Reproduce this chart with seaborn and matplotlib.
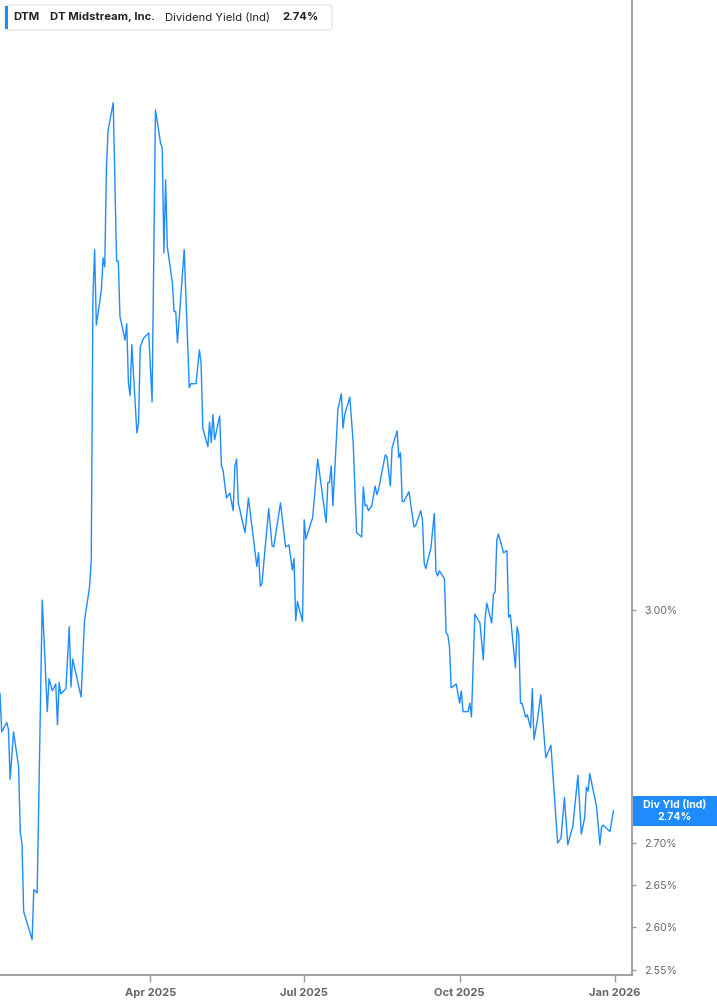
import numpy as np
import pandas as pd
import matplotlib
matplotlib.use("Agg")
import matplotlib.pyplot as plt
import matplotlib.dates as mdates
from matplotlib.patches import FancyBboxPatch, Rectangle
from matplotlib.ticker import FixedLocator, FuncFormatter, NullLocator
import seaborn as sns

# ---- data (days since 2025-01-02, dividend yield in %) ----
day_offset = [
    0, 1, 4, 5, 6, 8, 11, 12, 13, 14, 19, 20, 22, 25, 28, 29, 31, 33, 34, 35,
    36, 39, 41, 42, 43, 48, 50, 53, 54, 55, 56, 57, 60, 61, 62, 63, 64, 67, 69, 70,
    71, 74, 75, 76, 77, 78, 81, 82, 83, 85, 88, 90, 92, 95, 96, 97, 98, 99, 102, 103,
    104, 105, 109, 111, 112, 113, 116, 118, 119, 120, 123, 124, 125, 126, 127, 130, 131, 132, 134, 136,
    138, 139, 140, 141, 145, 147, 152, 153, 154, 155, 159, 161, 162, 166, 169, 171, 173, 174, 175, 176,
    179, 180, 181, 185, 188, 193, 194, 195, 196, 197, 200, 202, 203, 204, 207, 209, 211, 214, 215, 216,
    217, 218, 220, 222, 223, 224, 228, 229, 231, 232, 235, 236, 237, 238, 239, 242, 245, 246, 249, 250,
    251, 252, 255, 257, 258, 259, 260, 263, 264, 265, 266, 267, 270, 272, 273, 274, 277, 278, 279, 281,
    284, 286, 287, 288, 291, 292, 293, 294, 295, 298, 300, 301, 302, 305, 306, 307, 308, 309, 311, 312,
    314, 315, 316, 318, 320, 323, 326, 330, 332, 334, 336, 339, 342, 344, 346, 347, 348, 349, 353, 355,
    356, 357, 361, 363,
]
div_yield = [
    2.889, 2.839, 2.851, 2.842, 2.779, 2.839, 2.795, 2.713, 2.700, 2.618, 2.585, 2.644, 2.640, 3.013, 2.865, 2.908, 2.892, 2.901, 2.848, 2.903,
    2.888, 2.895, 2.977, 2.897, 2.934, 2.884, 2.985, 3.031, 3.068, 3.455, 3.529, 3.411, 3.466, 3.516, 3.502, 3.664, 3.725, 3.771, 3.511, 3.511,
    3.424, 3.388, 3.413, 3.323, 3.304, 3.381, 3.249, 3.264, 3.378, 3.391, 3.399, 3.295, 3.759, 3.703, 3.695, 3.524, 3.642, 3.534, 3.477, 3.432,
    3.432, 3.384, 3.529, 3.384, 3.316, 3.322, 3.322, 3.373, 3.353, 3.256, 3.229, 3.265, 3.235, 3.276, 3.239, 3.274, 3.201, 3.195, 3.155, 3.162,
    3.137, 3.201, 3.211, 3.148, 3.106, 3.155, 3.059, 3.078, 3.032, 3.035, 3.140, 3.088, 3.086, 3.148, 3.086, 3.089, 3.054, 3.070, 2.985, 3.011,
    2.984, 3.124, 3.097, 3.127, 3.211, 3.120, 3.177, 3.177, 3.201, 3.144, 3.285, 3.307, 3.256, 3.276, 3.302, 3.235, 3.106, 3.100, 3.171, 3.144,
    3.145, 3.137, 3.144, 3.172, 3.160, 3.167, 3.217, 3.214, 3.172, 3.227, 3.252, 3.213, 3.220, 3.150, 3.150, 3.164, 3.114, 3.116, 3.137, 3.124,
    3.064, 3.056, 3.085, 3.133, 3.052, 3.046, 3.053, 3.042, 2.969, 2.966, 2.950, 2.896, 2.901, 2.876, 2.892, 2.865, 2.865, 2.876, 2.858, 2.994,
    2.982, 2.933, 2.986, 3.009, 2.982, 3.021, 3.024, 3.096, 3.104, 3.078, 3.081, 2.990, 2.993, 2.922, 2.977, 2.966, 2.876, 2.876, 2.858, 2.861,
    2.844, 2.895, 2.829, 2.854, 2.887, 2.806, 2.822, 2.700, 2.706, 2.756, 2.698, 2.721, 2.784, 2.711, 2.731, 2.769, 2.764, 2.786, 2.745, 2.698,
    2.720, 2.722, 2.714, 2.740,
]
start_date = "2025-01-02"
x_range = ["2025-01-02", "2026-01-11"]
y_range = [2.544, 3.950]
y_ticks = [2.55, 2.60, 2.65, 2.70, 3.00]
x_tick_dates = ["2025-04-01", "2025-07-01", "2025-10-01", "2026-01-01"]
x_tick_labels = ["Apr 2025", "Jul 2025", "Oct 2025", "Jan 2026"]
ticker_sym = "DTM"
company = "DT Midstream, Inc."
metric = "Dividend Yield (Ind)"
last_label = "2.74%"
side_label = "Div Yld (Ind)"

df = pd.DataFrame({
    "date": pd.Timestamp(start_date) + pd.to_timedelta(day_offset, unit="D"),
    "yield": div_yield,
})

sns.set_style("white")
plt.rcParams["font.family"] = ["Inter", "DejaVu Sans"]

BLUE = "#1e8cff"
GRAY = "#9a9a9a"
TXT = "#666666"

W, H = 717, 1005
fig = plt.figure(figsize=(W / 100, H / 100), dpi=100)
fig.patch.set_facecolor("white")
ax = fig.add_axes([0, 30 / H, 632 / W, 975 / H])

sns.lineplot(data=df, x="date", y="yield", ax=ax, color=BLUE, linewidth=1.0,
             estimator=None, legend=False)

ax.set_yscale("log")
ax.set_ylim(*y_range)
ax.set_xlim(pd.Timestamp(x_range[0]), pd.Timestamp(x_range[1]))

ax.yaxis.set_major_locator(FixedLocator(y_ticks))
ax.yaxis.set_minor_locator(NullLocator())
ax.yaxis.set_major_formatter(FuncFormatter(lambda v, p: f"{v:.2f}%"))
ax.yaxis.tick_right()
ax.set_xticks([pd.Timestamp(d) for d in x_tick_dates])
ax.set_xticklabels(x_tick_labels)
ax.xaxis.set_minor_locator(NullLocator())

ax.set_xlabel("")
ax.set_ylabel("")
for s in ["top", "left"]:
    ax.spines[s].set_visible(False)
for s in ["right", "bottom"]:
    ax.spines[s].set_visible(True)
    ax.spines[s].set_color(GRAY)
    ax.spines[s].set_linewidth(1.3)

ax.tick_params(axis="y", which="major", right=True, left=False, length=3, width=1,
               color=GRAY, pad=6, labelsize=7.6, labelcolor=TXT)
ax.tick_params(axis="x", which="major", bottom=True, length=5, width=1,
               color=GRAY, pad=4, labelsize=8)
for lbl in ax.get_xticklabels():
    lbl.set_fontweight("bold")
    lbl.set_color(TXT)
ax.grid(False)

# header box (top-left)
def fx(px):
    return px / W

def fy(py):
    return 1 - py / H

box = FancyBboxPatch((fx(5), fy(30)), fx(327), (25 / H),
                     boxstyle="round,pad=0,rounding_size=0.004",
                     transform=fig.transFigure, facecolor="white",
                     edgecolor="#e6e6e6", linewidth=1.0, zorder=5)
fig.patches.append(box)
bar = Rectangle((fx(4.5), fy(29)), fx(3.5), 23 / H, transform=fig.transFigure,
                facecolor=BLUE, edgecolor="none", zorder=6)
fig.patches.append(bar)
hy = fy(17.5)
HFS = 8.15
fig.text(fx(13), hy, ticker_sym, fontsize=HFS, fontweight="bold", color="#222222",
         va="center", ha="left", zorder=7)
fig.text(fx(49.5), hy, company, fontsize=HFS, fontweight="bold", color="#222222",
         va="center", ha="left", zorder=7)
fig.text(fx(165), hy, metric, fontsize=HFS, color="#222222",
         va="center", ha="left", zorder=7)
fig.text(fx(282), hy, last_label, fontsize=HFS, fontweight="bold", color="#222222",
         va="center", ha="left", zorder=7)

# side value label on the right axis
lab = Rectangle((fx(633), fy(826)), fx(84), 30 / H, transform=fig.transFigure,
                facecolor=BLUE, edgecolor="none", zorder=6)
fig.patches.append(lab)
fig.text(fx(675), fy(804.5), side_label, fontsize=7.6, fontweight="bold", color="white",
         ha="center", va="center", zorder=7)
fig.text(fx(675), fy(816.5), last_label, fontsize=7.6, fontweight="bold", color="white",
         ha="center", va="center", zorder=7)

fig.savefig("out.png", dpi=100, facecolor="white")
